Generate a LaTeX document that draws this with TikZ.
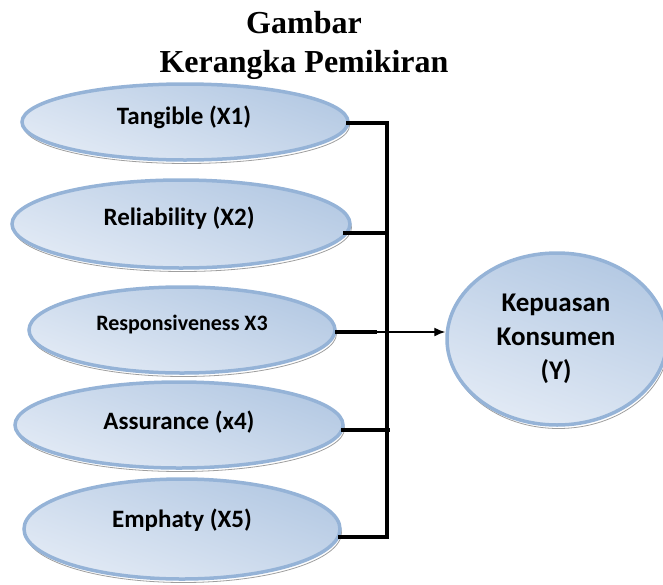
\documentclass[tikz,border=0pt]{standalone}
\usepackage{fontspec}
\setmainfont{Liberation Serif}
\newfontfamily\labelfont{Carlito}
\usetikzlibrary{shapes.geometric,arrows.meta,shadows}

\definecolor{ovalborder}{HTML}{95B3D7}
\definecolor{ovaldark}{HTML}{B4C9E3}
\definecolor{ovallight}{HTML}{E2EAF5}

\tikzset{
  oval/.style={ellipse, inner sep=0pt, draw=ovalborder, line width=3.5pt,
    shade, shading=axis, top color=ovaldark, bottom color=ovallight, shading angle=-20,
    drop shadow={shadow xshift=1.5pt, shadow yshift=-3.5pt, opacity=1,
      fill=white, draw=gray!75, line width=0.8pt}},
  lbl/.style={font=\labelfont\bfseries\fontsize{25}{29}\selectfont, inner sep=0pt},
  ttl/.style={font=\bfseries\fontsize{32}{36}\selectfont, inner sep=0pt, anchor=base},
  link/.style={line width=4pt},
  thin/.style={line width=1.4pt, -{Latex[length=11pt,width=9pt]}}
}

\begin{document}
\begin{tikzpicture}[x=1pt, y=-1pt]
  \useasboundingbox (0,0) rectangle (663,584);
  \clip (0,0) rectangle (663,584);

  % heading
  \node[ttl] (t1) at (304,33) {Gambar};
  \node[ttl] (t2) at (304,72) {Kerangka Pemikiran};

  % independent variables
  \node[oval, minimum width=326pt, minimum height=76pt] (x1) at (185,122) {};
  \node[lbl] (l1) at (184,117) {Tangible (X1)};
  \node[oval, minimum width=338pt, minimum height=88pt] (x2) at (181,224) {};
  \node[lbl] (l2) at (179,218) {Reliability (X2)};
  \node[oval, minimum width=306pt, minimum height=86pt] (x3) at (182,330) {};
  \node[lbl, font=\labelfont\bfseries\fontsize{22}{26}\selectfont] (l3) at (182,325) {Responsiveness X3};
  \node[oval, minimum width=328pt, minimum height=86pt] (x4) at (179,425) {};
  \node[lbl] (l4) at (179,422) {Assurance (x4)};
  \node[oval, minimum width=316pt, minimum height=100pt] (x5) at (182,529) {};
  \node[lbl] (l5) at (182,520) {Emphaty (X5)};

  % dependent variable
  \node[oval, minimum width=220pt, minimum height=172pt] (y) at (557,339) {};
  \node[lbl, align=center, font=\labelfont\bfseries\fontsize{27}{34}\selectfont] (ly) at (556,339) {Kepuasan\\Konsumen\\(Y)};

  % collecting bar
  \coordinate (bt) at (387,121);
  \coordinate (bb) at (387,539);
  \draw[link] (bt) -- (bb);

  % stubs from each oval to the bar
  \coordinate (s1) at (346,123);
  \coordinate (s2) at (343,233);
  \coordinate (s3) at (335,332);
  \coordinate (s4) at (341,430);
  \coordinate (s5) at (338,537);
  \draw[link] (s1) -- (s1 -| bt);
  \draw[link] (s2) -- (s2 -| bt);
  \draw[link] (s4) -- ([xshift=3pt]s4 -| bt);
  \draw[link] (s5) -- (s5 -| bt);
  \coordinate (r3) at (377,332);
  \draw[link] (s3) -- (r3);
  \draw[thin] (r3) -- (r3 -| y.west);
\end{tikzpicture}
\end{document}
